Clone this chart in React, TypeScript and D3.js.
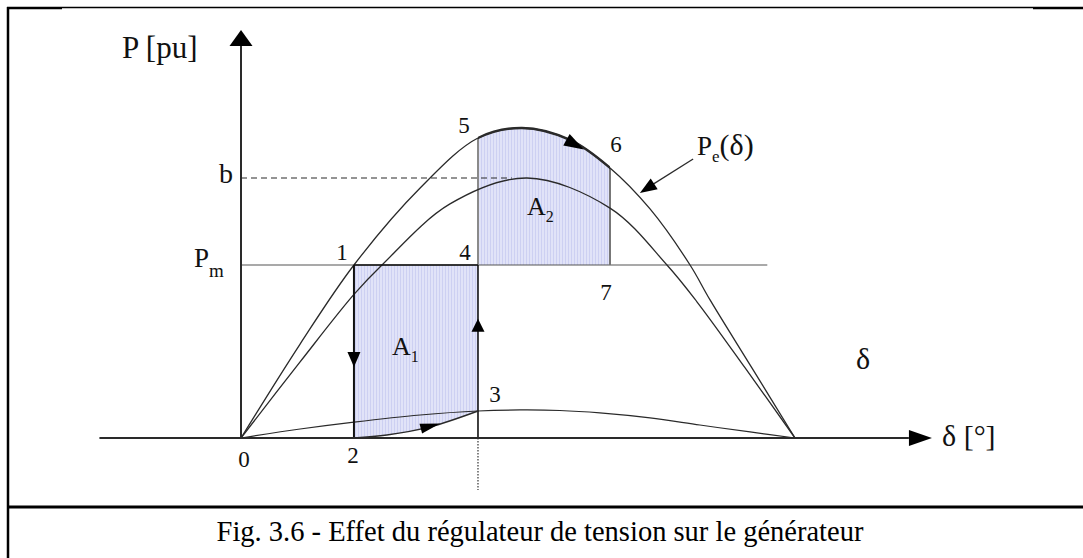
import React from 'react';
import * as d3 from 'd3';

// Power–angle characteristics: load angle δ in degrees, electrical power in pu.
// Upper curve: generator with voltage regulator, P_e(δ).
const deltaWithAVR = [0, 19.2, 36.7, 58.2, 77.0, 91.3, 106.9, 119.9, 132.9, 145.9, 152.4, 166.0, 180];
const powerWithAVR = [0, 0.543, 1.0, 1.445, 1.734, 1.792, 1.723, 1.561, 1.324, 1.0, 0.798, 0.405, 0];

// Middle curve: characteristic without regulator action (peak b).
const deltaNoAVR = [0, 19.2, 36.7, 45.8, 67.9, 92.9, 119.9, 138.4, 148.2, 163.8, 180];
const powerNoAVR = [0, 0.44, 0.83, 1.0, 1.353, 1.503, 1.329, 1.0, 0.786, 0.405, 0];

// Lower curve: characteristic during the fault.
const deltaFault = [0, 19.2, 36.7, 58.2, 77.0, 90.6, 103.6, 116.6, 132.9, 149.1, 165.4, 180];
const powerFault = [0, 0.052, 0.092, 0.133, 0.156, 0.162, 0.159, 0.145, 0.116, 0.075, 0.035, 0];

// Operating trajectory 2 -> 3 while the fault lasts.
const deltaSwing = [36.7, 47.4, 61.4, 77.0];
const powerSwing = [0, 0.017, 0.064, 0.156];

// Mechanical power and the peak of the middle characteristic.
const Pm = 1.0;
const bValue = 1.503;

// Numbered operating points (δ, P).
const stateLabels = ['0', '1', '2', '3', '4', '5', '6', '7'];
const stateDelta = [0, 36.7, 36.7, 77.0, 77.0, 77.0, 119.9, 119.9];
const statePower = [0, 1.0, 0, 0.156, 1.0, 1.734, 1.561, 1.0];

const caption = 'Fig. 3.6 - Effet du régulateur de tension sur le générateur';

const W = 1083;
const H = 558;
const FONT = '"Liberation Serif", "DejaVu Serif", serif';

type Pt = [number, number];

function arrowHead(tip: Pt, from: Pt, len: number, half: number): string {
  const ang = Math.atan2(tip[1] - from[1], tip[0] - from[0]);
  const bx = tip[0] - len * Math.cos(ang);
  const by = tip[1] - len * Math.sin(ang);
  const nx = -Math.sin(ang) * half;
  const ny = Math.cos(ang) * half;
  return `M${tip[0]},${tip[1]}L${bx + nx},${by + ny}L${bx - nx},${by - ny}Z`;
}

export default function App() {
  const x = d3.scaleLinear().domain([0, 180]).range([241, 795]);
  const y = d3.scaleLinear().domain([0, 1]).range([438, 265]);

  const zip = (ds: number[], ps: number[]) => ds.map((d, i) => [d, ps[i]] as Pt);
  const curve = d3.curveCatmullRom.alpha(0.5);
  const line = d3
    .line<Pt>()
    .x((d) => x(d[0]))
    .y((d) => y(d[1]))
    .curve(curve);

  const avr = zip(deltaWithAVR, powerWithAVR);
  const noAvr = zip(deltaNoAVR, powerNoAVR);
  const fault = zip(deltaFault, powerFault);
  const swing = zip(deltaSwing, powerSwing);

  // Piecewise readers used to place arrows along the curves.
  const avrAt = d3.scaleLinear().domain(deltaWithAVR).range(powerWithAVR);
  const swingAt = d3.scaleLinear().domain(deltaSwing).range(powerSwing);

  const d1 = stateDelta[1];
  const d4 = stateDelta[4];
  const d6 = stateDelta[6];

  // A1: between P_m and the fault trajectory 2 -> 3.
  const areaA1 = d3
    .area<Pt>()
    .x((d) => x(d[0]))
    .y0((d) => y(d[1]))
    .y1(() => y(Pm))
    .curve(curve)(swing);

  // A2: between P_m and P_e(δ), clipped to δ4..δ6.
  const areaA2 = d3
    .area<Pt>()
    .x((d) => x(d[0]))
    .y0(() => y(Pm))
    .y1((d) => y(d[1]))
    .curve(curve)(avr);

  const ink = '#2a2a2a';

  const swingTip: Pt = [x(64.7), y(swingAt(64.7))];
  const swingBase: Pt = [x(58.5), y(swingAt(58.5))];
  const topTip: Pt = [x(111.4), y(avrAt(111.4))];
  const topBase: Pt = [x(105.0), y(avrAt(105.0))];

  const labelOffsets: Pt[] = [
    [3, 29],
    [-12, -5],
    [-1, 25],
    [17, -9],
    [-13, -5],
    [-14, -5],
    [6, -16],
    [-4, 35],
  ];

  const txt = { fontFamily: FONT };

  return (
    <svg
      width={W}
      height={H}
      viewBox={`0 0 ${W} ${H}`}
      style={{ position: 'absolute', left: 0, top: 0, background: '#fff', fontFamily: FONT }}
    >
      <defs>
        <pattern id="hatch" width="3" height="6" patternUnits="userSpaceOnUse">
          <rect width="3" height="6" fill="#e1e3f8" />
          <rect x="1" width="1" height="6" fill="#cdd0f2" />
        </pattern>
        <clipPath id="clipA2">
          <rect x={x(d4)} y={0} width={x(d6) - x(d4)} height={y(Pm)} />
        </clipPath>
      </defs>

      {/* frame */}
      <line x1={8} y1={7} x2={8} y2={H} stroke="#000" strokeWidth={2.5} />
      <line x1={7} y1={8} x2={62} y2={8} stroke="#000" strokeWidth={2.5} />
      <line x1={62} y1={7.5} x2={1033} y2={7.5} stroke="#000" strokeWidth={1.3} />
      <line x1={1033} y1={8} x2={W} y2={8} stroke="#000" strokeWidth={2.5} />
      <line x1={7} y1={507} x2={W} y2={507} stroke="#000" strokeWidth={3} />

      {/* shaded areas */}
      <path d={areaA1 ?? ''} fill="url(#hatch)" />
      <path d={areaA2 ?? ''} fill="url(#hatch)" clipPath="url(#clipA2)" />

      {/* b reference and mechanical power */}
      <line
        x1={x(0)}
        y1={y(bValue)}
        x2={x(88)}
        y2={y(bValue)}
        stroke={ink}
        strokeWidth={1.2}
        strokeDasharray="6 4"
      />
      <line x1={x(0)} y1={y(Pm)} x2={x(171)} y2={y(Pm)} stroke="#555" strokeWidth={1.2} />

      {/* A2 borders */}
      <line x1={x(d4)} y1={y(Pm)} x2={x(d4)} y2={y(statePower[5])} stroke="#8a8a8a" strokeWidth={2} />
      <line x1={x(d6)} y1={y(Pm)} x2={x(d6)} y2={y(statePower[6])} stroke="#777" strokeWidth={2} />

      {/* characteristics */}
      <path d={line(avr) ?? ''} fill="none" stroke={ink} strokeWidth={1.3} />
      <path d={line(noAvr) ?? ''} fill="none" stroke={ink} strokeWidth={1.3} />
      <path d={line(fault) ?? ''} fill="none" stroke={ink} strokeWidth={1.2} />
      <path d={line(avr) ?? ''} fill="none" stroke={ink} strokeWidth={2.4} clipPath="url(#clipA2)" />

      {/* A1 rectangle edges */}
      <line x1={x(d1)} y1={y(Pm)} x2={x(d4)} y2={y(Pm)} stroke="#111" strokeWidth={1.6} />
      <line x1={x(d1)} y1={y(Pm)} x2={x(d1)} y2={y(0)} stroke="#111" strokeWidth={2} />
      <line x1={x(d4)} y1={y(Pm)} x2={x(d4)} y2={y(0)} stroke="#111" strokeWidth={1.6} />
      <line
        x1={x(d4)}
        y1={y(0)}
        x2={x(d4)}
        y2={y(-0.3)}
        stroke="#333"
        strokeWidth={1.2}
        strokeDasharray="1.5 1.5"
      />
      <path d={line(swing) ?? ''} fill="none" stroke={ink} strokeWidth={1.4} />

      {/* axes */}
      <line x1={x(-46)} y1={y(0)} x2={x(217)} y2={y(0)} stroke={ink} strokeWidth={2} />
      <line x1={x(0)} y1={y(0)} x2={x(0)} y2={y(2.27)} stroke={ink} strokeWidth={2} />
      <path d={arrowHead([x(224.5), y(0)], [x(200), y(0)], 23, 8)} fill="#000" />
      <path d={arrowHead([x(0), y(2.358)], [x(0), y(2)], 16, 11.5)} fill="#000" />

      {/* trajectory arrows */}
      <path d={arrowHead([x(d1), y(0.41)], [x(d1), y(0.6)], 15, 6.5)} fill="#000" />
      <path d={arrowHead([x(d4), y(0.69)], [x(d4), y(0.5)], 13, 6.5)} fill="#000" />
      <path d={arrowHead(swingTip, swingBase, 20, 5)} fill="#000" />
      <path d={arrowHead(topTip, topBase, 20, 6.5)} fill="#000" />

      {/* P_e(δ) pointer */}
      <line x1={x(146.9)} y1={y(1.613)} x2={x(131.5)} y2={y(1.44)} stroke={ink} strokeWidth={1.3} />
      <path d={arrowHead([x(129.6), y(1.416)], [x(146.9), y(1.613)], 17, 6.5)} fill="#000" />

      {/* operating point labels */}
      {stateLabels.map((lab, i) => (
        <text
          key={lab}
          x={x(stateDelta[i]) + labelOffsets[i][0]}
          y={y(statePower[i]) + labelOffsets[i][1]}
          fontSize={23}
          textAnchor="middle"
          fill="#111"
          style={txt}
        >
          {lab}
        </text>
      ))}

      {/* area labels */}
      <text x={x(d1) + 38} y={y(Pm) + 90} fontSize={26} fill="#111" style={txt}>
        A<tspan fontSize={16} dy={7}>1</tspan>
      </text>
      <text x={x(d4) + 49} y={y(bValue) + 37} fontSize={26} fill="#111" style={txt}>
        A<tspan fontSize={16} dy={7}>2</tspan>
      </text>

      {/* axis and level labels */}
      <text x={122} y={58} fontSize={31} fill="#111" style={txt}>
        P [pu]
      </text>
      <text x={x(0) - 8} y={y(bValue) + 5} fontSize={28} textAnchor="end" fill="#111" style={txt}>
        b
      </text>
      <text x={x(0) - 47} y={y(Pm) + 2} fontSize={27} fill="#111" style={txt}>
        P<tspan fontSize={19} dy={10}>m</tspan>
      </text>
      <text x={697} y={155} fontSize={27} fill="#111" style={txt}>
        P<tspan fontSize={17} dy={7}>e</tspan>
        <tspan dy={-7} fontSize={30}>(δ)</tspan>
      </text>
      <text x={856} y={369} fontSize={30} fill="#111" style={txt}>
        δ
      </text>
      <text x={942} y={446} fontSize={30} fill="#111" style={txt}>
        δ [°]
      </text>

      {/* caption */}
      <text x={540} y={541} fontSize={28.5} textAnchor="middle" fill="#000" style={txt}>
        {caption}
      </text>
    </svg>
  );
}
